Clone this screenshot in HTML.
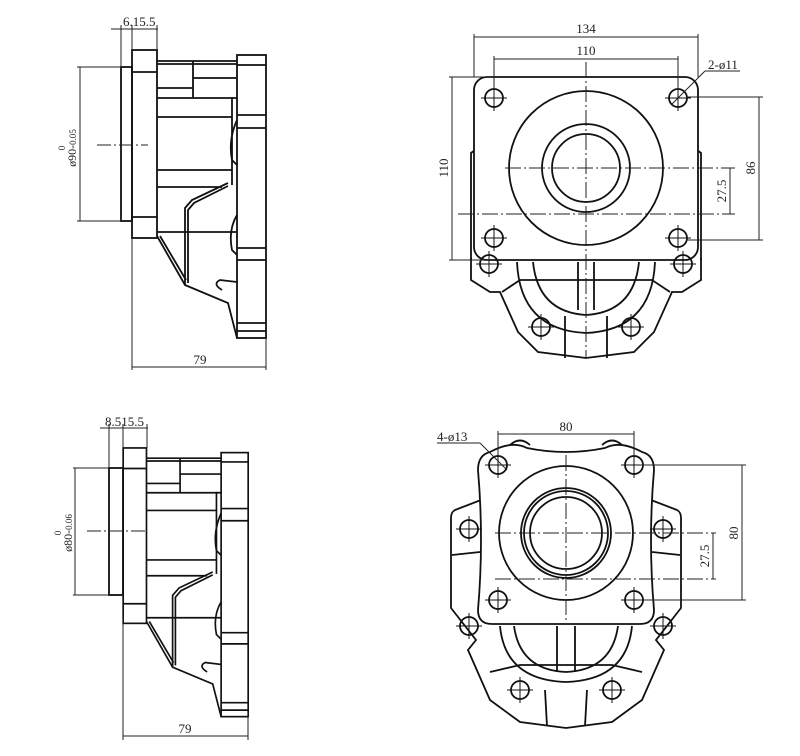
<!DOCTYPE html>
<html><head><meta charset="utf-8"><style>
html,body{margin:0;padding:0;background:#fff;}
svg{display:block;}
text{font-family:"Liberation Serif",serif;fill:#222;}
</style></head><body>
<svg width="800" height="756" viewBox="0 0 800 756" xmlns="http://www.w3.org/2000/svg">
<defs>
<g id="side" fill="none" stroke="#111" stroke-width="1.8">
  <rect x="132" y="50" width="25" height="188"/>
  <line x1="132" y1="72" x2="157" y2="72"/>
  <line x1="132" y1="217" x2="157" y2="217"/>
  <line x1="157" y1="61" x2="237" y2="61"/>
  <line x1="157" y1="64" x2="237" y2="64"/>
  <line x1="157" y1="88" x2="193" y2="88"/>
  <line x1="157" y1="98" x2="237" y2="98"/>
  <line x1="193" y1="61" x2="193" y2="98"/>
  <line x1="193" y1="78" x2="237" y2="78"/>
  <line x1="157" y1="117" x2="232" y2="117"/>
  <line x1="157" y1="170" x2="232" y2="170"/>
  <line x1="157" y1="187" x2="222" y2="187"/>
  <line x1="232" y1="97" x2="232" y2="185"/>
  <rect x="237" y="55" width="29" height="283"/>
  <line x1="237" y1="65" x2="266" y2="65"/>
  <line x1="237" y1="115" x2="266" y2="115"/>
  <line x1="237" y1="128" x2="266" y2="128"/>
  <line x1="237" y1="248" x2="266" y2="248"/>
  <line x1="237" y1="260" x2="266" y2="260"/>
  <line x1="237" y1="323" x2="266" y2="323"/>
  <line x1="237" y1="331" x2="266" y2="331"/>
  <path d="M237,120 Q228,140 232,160 L237,165"/>
  <path d="M237,215 Q228,230 232,250 L237,255"/>
  <line x1="157" y1="232" x2="237" y2="232"/>
  <path d="M157,236 L185,285 L228,303 L237,338"/>
  <path d="M160,236 L186,280"/>
  <path d="M185,285 L185,208 L192,200 L228,183"/>
  <path d="M188,283 L188,210 L194,203 L228,186"/>
  <path d="M222,290 Q212,284 220,280 L237,282"/>
</g>
<g id="hole"><circle r="9" fill="none" stroke="#111" stroke-width="1.8"/><line x1="-13" y1="0" x2="13" y2="0" stroke="#111" stroke-width="1"/><line x1="0" y1="-13" x2="0" y2="13" stroke="#111" stroke-width="1"/></g>
</defs>

<use href="#side"/>
<g fill="none" stroke="#111" stroke-width="1.8">
  <rect x="121" y="67" width="11" height="154"/>
</g>
<g stroke="#222" stroke-width="1" fill="none">
  <line x1="111" y1="29" x2="158" y2="29"/>
  <line x1="121" y1="25" x2="121" y2="67"/>
  <line x1="132" y1="25" x2="132" y2="50"/>
  <line x1="157" y1="25" x2="157" y2="50"/>
  <line x1="77" y1="67" x2="121" y2="67"/>
  <line x1="77" y1="221" x2="121" y2="221"/>
  <line x1="80" y1="67" x2="80" y2="221"/>
  <line x1="97" y1="145" x2="148" y2="145" stroke-dasharray="14,3,2,3"/>
  <line x1="132" y1="238" x2="132" y2="370"/>
  <line x1="266" y1="338" x2="266" y2="370"/>
  <line x1="132" y1="367" x2="266" y2="367"/>
</g>
<text x="123" y="26" font-size="13">6.15.5</text>
<text x="200" y="364" font-size="13" text-anchor="middle">79</text>
<text transform="translate(76,148) rotate(-90)" font-size="12" text-anchor="middle">ø90-<tspan font-size="9">0.05</tspan></text>
<text transform="translate(65,148) rotate(-90)" font-size="9" text-anchor="middle">0</text>

<use href="#side" transform="matrix(0.933,0,0,0.933,0,401.3)"/>
<g fill="none" stroke="#111" stroke-width="1.8">
  <rect x="109" y="468" width="14" height="127"/>
</g>
<g stroke="#222" stroke-width="1" fill="none">
  <line x1="100" y1="428" x2="148" y2="428"/>
  <line x1="109" y1="424" x2="109" y2="468"/>
  <line x1="123" y1="424" x2="123" y2="448"/>
  <line x1="147" y1="424" x2="147" y2="448"/>
  <line x1="73" y1="468" x2="109" y2="468"/>
  <line x1="73" y1="595" x2="109" y2="595"/>
  <line x1="75" y1="468" x2="75" y2="595"/>
  <line x1="87" y1="531" x2="146" y2="531" stroke-dasharray="14,3,2,3"/>
  <line x1="123" y1="618" x2="123" y2="740"/>
  <line x1="248" y1="712" x2="248" y2="740"/>
  <line x1="123" y1="736" x2="248" y2="736"/>
</g>
<text x="105" y="426" font-size="13">8.515.5</text>
<text x="185" y="733" font-size="13" text-anchor="middle">79</text>
<text transform="translate(72,533) rotate(-90)" font-size="12" text-anchor="middle">ø80-<tspan font-size="9">0.06</tspan></text>
<text transform="translate(61,533) rotate(-90)" font-size="9" text-anchor="middle">0</text>

<g fill="none" stroke="#111" stroke-width="1.8">
  <path d="M471,258 L471,280 L490,292 L500,292 L518,332 L538,352 L586,358 L634,352 L654,332 L672,292 L682,292 L701,280 L701,258"/>
  <path d="M471,260 L471,153 L475,150"/><path d="M701,260 L701,153 L697,150"/>
  <rect x="474" y="77" width="224" height="183" rx="13" fill="#fff"/>
  <circle cx="586" cy="168" r="77"/>
  <circle cx="586" cy="168" r="44"/>
  <circle cx="586" cy="168" r="34"/>
  <path d="M517,262 Q520,330 586,333 Q652,330 655,262"/>
  <path d="M533,262 Q538,312 586,315 Q634,312 639,262"/>
  <line x1="578" y1="262" x2="578" y2="310"/><line x1="594" y1="262" x2="594" y2="310"/>
  <path d="M502,292 L520,280 L652,280 L670,292"/>
  <line x1="565" y1="316" x2="565" y2="358"/><line x1="607" y1="316" x2="607" y2="358"/>
</g>
<use href="#hole" x="494" y="98"/><use href="#hole" x="678" y="98"/>
<use href="#hole" x="494" y="238"/><use href="#hole" x="678" y="238"/>
<use href="#hole" x="489" y="264"/><use href="#hole" x="683" y="264"/>
<use href="#hole" x="541" y="327"/><use href="#hole" x="631" y="327"/>
<g stroke="#222" stroke-width="1" fill="none">
  <line x1="586" y1="62" x2="586" y2="358" stroke-dasharray="16,3,2,3"/>
  <line x1="505" y1="168" x2="735" y2="168" stroke-dasharray="16,3,2,3"/>
  <line x1="458" y1="214" x2="735" y2="214" stroke-dasharray="16,3,2,3"/>
  <line x1="474" y1="34" x2="474" y2="77"/><line x1="698" y1="34" x2="698" y2="77"/>
  <line x1="474" y1="37" x2="698" y2="37"/>
  <line x1="494" y1="56" x2="494" y2="90"/><line x1="678" y1="56" x2="678" y2="90"/>
  <line x1="494" y1="59" x2="678" y2="59"/>
  <line x1="449" y1="77" x2="494" y2="77"/><line x1="449" y1="260" x2="494" y2="260"/>
  <line x1="452" y1="77" x2="452" y2="260"/>
  <line x1="686" y1="97" x2="763" y2="97"/><line x1="686" y1="240" x2="763" y2="240"/>
  <line x1="759" y1="97" x2="759" y2="240"/>
  <line x1="730" y1="168" x2="730" y2="214"/>
  <line x1="672" y1="104" x2="705" y2="71"/><line x1="705" y1="71" x2="740" y2="71"/>
</g>
<text x="586" y="33" font-size="13" text-anchor="middle">134</text>
<text x="586" y="55" font-size="13" text-anchor="middle">110</text>
<text x="708" y="69" font-size="13">2-ø11</text>
<text transform="translate(448,168) rotate(-90)" font-size="13" text-anchor="middle">110</text>
<text transform="translate(755,168) rotate(-90)" font-size="13" text-anchor="middle">86</text>
<text transform="translate(726,191) rotate(-90)" font-size="13" text-anchor="middle">27.5</text>

<g fill="none" stroke="#111" stroke-width="1.8">
  <path d="M481,500 L455,510 Q451,512 451,518 L451,608 L476,640 L468,650 L490,700 L520,722 L566,728 L612,722 L642,700 L664,650 L656,640 L681,608 L681,518 Q681,512 677,510 L651,500"/>
  <path d="M452,555 L480,552"/><path d="M680,555 L652,552"/>
  <path d="M490,452 Q478,455 478,470 Q484,540 478,610 Q478,624 492,624 L640,624 Q654,624 654,610 Q648,540 654,470 Q654,455 642,452 Q620,440 605,448 Q566,456 527,448 Q512,440 490,452 Z" fill="#fff"/>
  <path d="M510,445 Q520,436 530,445"/><path d="M602,445 Q612,436 622,445"/>
  <circle cx="566" cy="533" r="67"/>
  <circle cx="566" cy="533" r="45"/>
  <circle cx="566" cy="533" r="42"/>
  <circle cx="566" cy="533" r="36"/>
  <path d="M500,626 Q505,680 566,682 Q627,680 632,626"/>
  <path d="M514,626 Q520,670 566,672 Q612,670 618,626"/>
  <line x1="557" y1="626" x2="557" y2="672"/><line x1="575" y1="626" x2="575" y2="672"/>
  <path d="M490,672 L520,665 L612,665 L642,672"/>
  <line x1="545" y1="690" x2="547" y2="726"/><line x1="587" y1="690" x2="585" y2="726"/>
</g>
<use href="#hole" x="498" y="465"/><use href="#hole" x="634" y="465"/>
<use href="#hole" x="498" y="600"/><use href="#hole" x="634" y="600"/>
<use href="#hole" x="469" y="529"/><use href="#hole" x="663" y="529"/>
<use href="#hole" x="469" y="626"/><use href="#hole" x="663" y="626"/>
<use href="#hole" x="520" y="690"/><use href="#hole" x="612" y="690"/>
<g stroke="#222" stroke-width="1" fill="none">
  <line x1="566" y1="455" x2="566" y2="620" stroke-dasharray="16,3,2,3"/>
  <line x1="495" y1="533" x2="716" y2="533" stroke-dasharray="16,3,2,3"/>
  <line x1="495" y1="579" x2="716" y2="579" stroke-dasharray="16,3,2,3"/>
  <line x1="498" y1="431" x2="498" y2="455"/><line x1="634" y1="431" x2="634" y2="455"/>
  <line x1="498" y1="434" x2="634" y2="434"/>
  <line x1="640" y1="465" x2="746" y2="465"/><line x1="640" y1="600" x2="746" y2="600"/>
  <line x1="742" y1="465" x2="742" y2="600"/>
  <line x1="713" y1="533" x2="713" y2="579"/>
  <line x1="437" y1="443" x2="480" y2="443"/><line x1="480" y1="443" x2="507" y2="470"/>
</g>
<text x="566" y="431" font-size="13" text-anchor="middle">80</text>
<text x="437" y="441" font-size="13">4-ø13</text>
<text transform="translate(738,533) rotate(-90)" font-size="13" text-anchor="middle">80</text>
<text transform="translate(709,556) rotate(-90)" font-size="13" text-anchor="middle">27.5</text>
</svg>
</body></html>
